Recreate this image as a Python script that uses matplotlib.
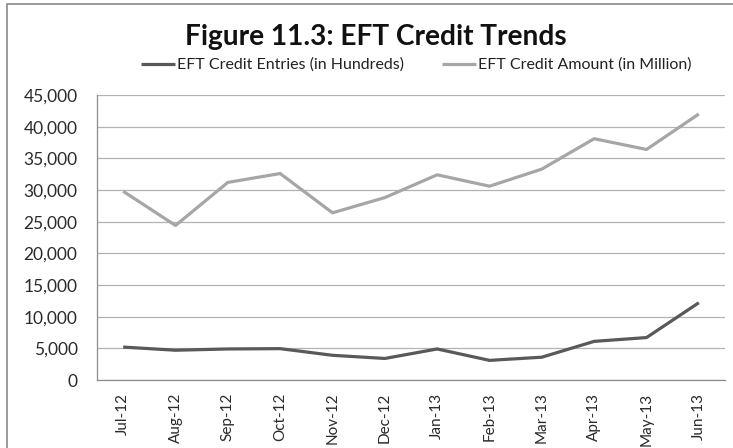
import matplotlib
matplotlib.use("Agg")
import matplotlib.pyplot as plt
from matplotlib.patches import Rectangle
from matplotlib.ticker import FuncFormatter, MultipleLocator

# Monthly EFT credit series
months = ["Jul-12", "Aug-12", "Sep-12", "Oct-12", "Nov-12", "Dec-12",
          "Jan-13", "Feb-13", "Mar-13", "Apr-13", "May-13", "Jun-13"]
entries_hundreds = [5200, 4700, 4900, 4950, 3900, 3400,
                    4900, 3100, 3600, 6100, 6700, 12200]
amount_million = [29800, 24400, 31200, 32600, 26400, 28800,
                  32400, 30600, 33300, 38100, 36400, 42000]

plt.rcParams["font.family"] = ["Lato", "DejaVu Sans"]

fig = plt.figure(figsize=(7.33, 4.48), dpi=100)
ax = fig.add_axes([97 / 733, 1 - 380 / 448, (725 - 97) / 733, (380 - 95) / 448])

x = list(range(len(months)))
ax.plot(x, entries_hundreds, color="#595959", lw=2.3, solid_capstyle="butt",
        label="EFT Credit Entries (in Hundreds)", zorder=3)
ax.plot(x, amount_million, color="#a6a6a6", lw=2.3, solid_capstyle="butt",
        label="EFT Credit Amount (in Million)", zorder=3)

ax.set_xlim(-0.5, len(months) - 0.5)
ax.set_ylim(0, 45000)
ax.yaxis.set_major_locator(MultipleLocator(5000))
ax.yaxis.set_major_formatter(FuncFormatter(lambda v, p: f"{int(v):,}"))
ax.set_xticks(x)
ax.set_xticklabels(months, rotation=90)

ax.grid(axis="y", color="#b3b3b3", lw=0.9)
ax.set_axisbelow(True)
for side in ("top", "right"):
    ax.spines[side].set_visible(False)
for side in ("left", "bottom"):
    ax.spines[side].set_color("#8c8c8c")
    ax.spines[side].set_linewidth(0.9)
ax.tick_params(axis="both", length=0, colors="#2a2a2a")
ax.tick_params(axis="y", pad=14, labelsize=12.5)
ax.tick_params(axis="x", pad=9, labelsize=11)

fig.text(0.513, 1 - 37 / 448, "Figure 11.3: EFT Credit Trends", ha="center",
         va="center", fontsize=20.2, fontweight="bold", color="#111111")

fig.legend(loc="center", bbox_to_anchor=(0.568, 1 - 65 / 448), ncol=2,
           frameon=False, fontsize=11.5, handlelength=2.1, handletextpad=0.15,
           columnspacing=2.4, labelcolor="#222222")

# chart area border
fig.patches.append(Rectangle((7 / 733, -0.1), 1.2, 1 - 4 / 448 + 0.1,
                             transform=fig.transFigure, fill=False,
                             edgecolor="#8a8a8a", lw=1.2))

fig.savefig("out.png", dpi=100, facecolor="white")
